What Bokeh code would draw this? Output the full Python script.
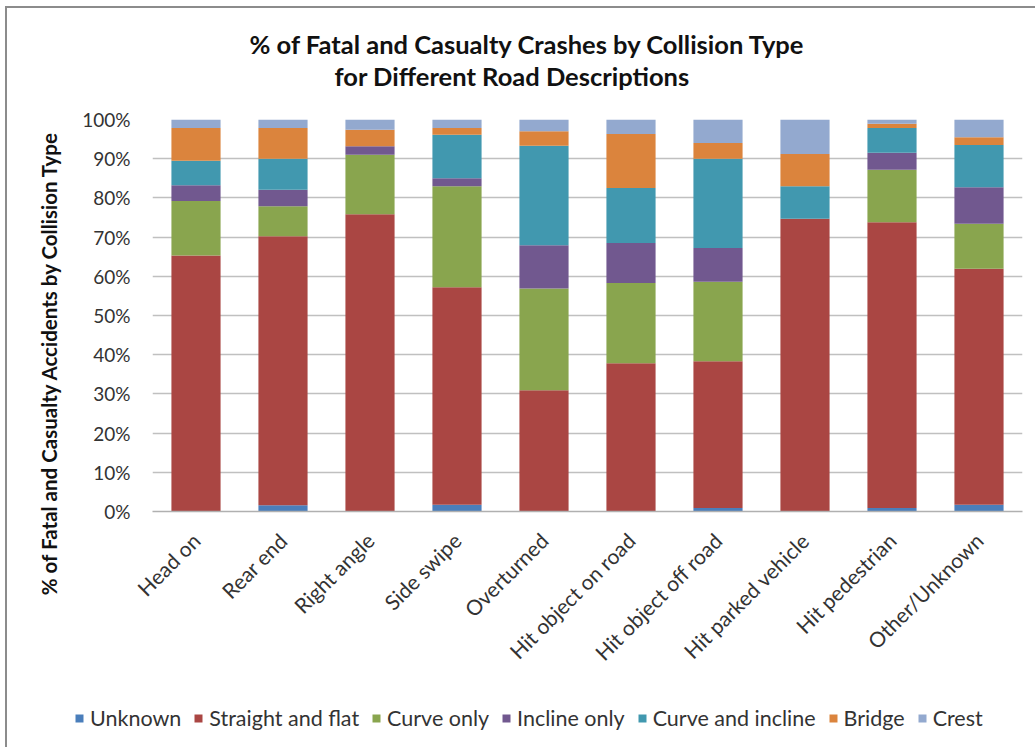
from math import pi
from bokeh.plotting import figure
from bokeh.layouts import column
from bokeh.models import FactorRange, Range1d, FixedTicker, PrintfTickFormatter, Title
from bokeh.embed import file_html
from bokeh.resources import INLINE

categories = ["Head on", "Rear end", "Right angle", "Side swipe", "Overturned",
              "Hit object on road", "Hit object off road", "Hit parked vehicle",
              "Hit pedestrian", "Other/Unknown"]
series_names = ["Unknown", "Straight and flat", "Curve only", "Incline only",
                "Curve and incline", "Bridge", "Crest"]
unknown = [0.0, 1.6, 0.0, 1.7, 0.0, 0.0, 0.9, 0.0, 0.9, 1.7]
straight_and_flat = [65.3, 68.6, 75.8, 55.5, 30.9, 37.8, 37.4, 74.7, 72.9, 60.2]
curve_only = [13.9, 7.7, 15.2, 25.8, 26.0, 20.5, 20.3, 0.0, 13.4, 11.5]
incline_only = [4.0, 4.2, 2.2, 2.0, 11.0, 10.2, 8.6, 0.0, 4.3, 9.3]
curve_and_incline = [6.3, 7.9, 0.0, 11.1, 25.4, 14.0, 22.8, 8.3, 6.3, 10.8]
bridge = [8.3, 7.8, 4.2, 1.7, 3.7, 13.8, 4.0, 8.2, 1.1, 2.0]
crest = [2.2, 2.2, 2.6, 2.2, 3.0, 3.7, 6.0, 8.8, 1.1, 4.5]
y_ticks = [0, 10, 20, 30, 40, 50, 60, 70, 80, 90, 100]

colors = ["#4A7EBB", "#AA4643", "#89A54E", "#71588F", "#4198AF", "#DB843D", "#93A9CF"]
keys = ["unknown", "straight", "curve", "incline", "candi", "bridge", "crest"]

data = {"cat": categories, "unknown": unknown, "straight": straight_and_flat,
        "curve": curve_only, "incline": incline_only, "candi": curve_and_incline,
        "bridge": bridge, "crest": crest}

FONT = "Lato"

p = figure(x_range=FactorRange(*categories, range_padding=0), y_range=Range1d(0, 100),
           width=1028, height=682, output_backend="svg", toolbar_location=None,
           frame_align=False,
           min_border_left=145, min_border_right=13, min_border_top=111, min_border_bottom=179)
p.outline_line_color = None
p.background_fill_color = "white"
p.border_fill_color = "white"

p.vbar_stack(keys, x="cat", width=0.565, color=colors, line_color=None, source=data)

p.xgrid.grid_line_color = None
p.ygrid.grid_line_color = "#c0c0c0"
p.ygrid.grid_line_width = 1.5
p.yaxis.ticker = FixedTicker(ticks=y_ticks)
p.yaxis.formatter = PrintfTickFormatter(format="%d%%")
p.yaxis.axis_line_color = None
p.yaxis.major_tick_line_color = None
p.yaxis.minor_tick_line_color = None
p.yaxis.major_tick_out = 0
p.yaxis.major_tick_in = 0
p.yaxis.major_label_standoff = 22
p.yaxis.major_label_text_font = FONT
p.yaxis.major_label_text_font_size = "19px"
p.yaxis.major_label_text_color = "#333333"
p.yaxis.axis_label = "% of Fatal and Casualty Accidents by Collision Type" + "\u00a0" * 19
p.yaxis.axis_label_standoff = 18
p.yaxis.axis_label_text_font = FONT
p.yaxis.axis_label_text_font_style = "bold"
p.yaxis.axis_label_text_font_size = "20.5px"
p.yaxis.axis_label_text_color = "#111111"

p.xaxis.axis_line_color = "#b0b0b0"
p.xaxis.axis_line_width = 1.5
p.xaxis.major_tick_line_color = None
p.xaxis.minor_tick_line_color = None
p.xaxis.major_tick_out = 0
p.xaxis.major_tick_in = 0
p.xaxis.major_label_orientation = pi / 4
p.xaxis.major_label_standoff = 25
p.xaxis.major_label_text_font = FONT
p.xaxis.major_label_text_font_size = "21px"
p.xaxis.major_label_text_color = "#333333"

# titles (above panel: first added is nearest the plot)
p.add_layout(Title(text=" ", text_font_size="10px", standoff=15), "above")
p.add_layout(Title(text="for Different Road Descriptions", align="left", offset=182,
                   vertical_align="middle", text_font=FONT, text_font_style="bold",
                   text_font_size="25.5px", text_color="#111111", standoff=0), "above")
p.add_layout(Title(text="% of Fatal and Casualty Crashes by Collision Type", align="left",
                   offset=97, vertical_align="middle", text_font=FONT,
                   text_font_style="bold", text_font_size="25.5px", text_color="#111111",
                   standoff=0), "above")

# legend strip below the chart (zero-height proxy bars only carry the legend swatches)
lf = figure(width=1028, height=57, output_backend="svg", toolbar_location=None,
            x_range=Range1d(0, 1), y_range=Range1d(0, 1), frame_align=False,
            x_axis_type=None, y_axis_type=None,
            min_border_left=0, min_border_right=0, min_border_top=0, min_border_bottom=0)
lf.outline_line_color = None
lf.grid.visible = False
for name, c in zip(series_names, colors):
    lf.vbar(x=[0.5], top=[0], bottom=[0], width=0.01, color=c, line_color=None,
            legend_label=name)

lg = lf.legend[0]
lg.orientation = "horizontal"
lg.location = (67, 16)
lg.margin = 0
lg.padding = 0
lg.spacing = 12
lg.label_standoff = 6
lg.glyph_width = 10
lg.glyph_height = 10
lg.label_height = 20
lg.label_text_font = FONT
lg.label_text_font_size = "21.5px"
lg.label_text_color = "#333333"
lg.border_line_color = None
lg.background_fill_alpha = 0

layout = column(p, lf, spacing=0,
                styles={"margin-left": "5px", "margin-top": "6px",
                        "border-left": "2px solid #8c8c8c", "border-top": "2px solid #8c8c8c"})

open("out.html", "w").write(file_html(layout, INLINE))
